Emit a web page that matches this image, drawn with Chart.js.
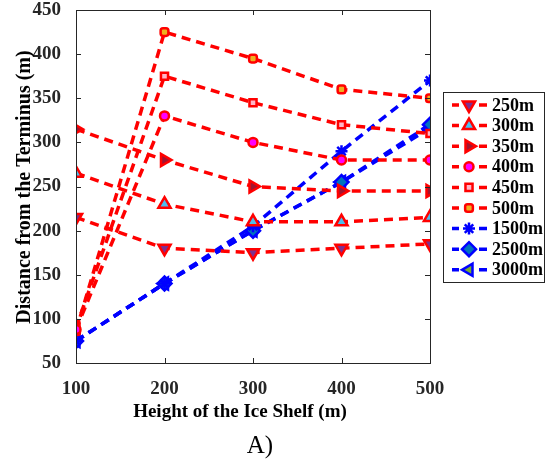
<!DOCTYPE html>
<html>
<head>
<meta charset="utf-8">
<script src="https://cdn.jsdelivr.net/npm/chart.js@4.4.1/dist/chart.umd.min.js"></script>
<style>
  html, body { margin: 0; padding: 0; background: #fff; }
</style>
</head>
<body>
<canvas id="distancia" width="554" height="461"></canvas>
<script>
// altura de la plataforma (eje x)
const alturas = [100, 200, 300, 400, 500];
const ticksY = [50, 100, 150, 200, 250, 300, 350, 400, 450];

// distancia desde el frente para cada profundidad
const d250 = [215, 180, 175, 180, 185];
const d300 = [265, 230, 210, 210, 215];
const d350 = [315, 280, 250, 245, 245];
const d400 = [88, 330, 300, 280, 280];
const d450 = [90, 375, 345, 320, 310];
const d500 = [86, 425, 395, 360, 350];
const d1500 = [75, 140, 205, 290, 370];
const d2500 = [75, 140, 200, 255, 320];
const d3000 = [75, 140, 200, 255, 316];

const etiquetas = ['250m', '300m', '350m', '400m', '450m', '500m', '1500m', '2500m', '3000m'];

const FUENTE = "'Liberation Serif', 'Times New Roman', serif";
const GRIS = '#262626';

function serie(label, valores, color, relleno, estilo, rot, radio) {
  return {
    label: label,
    data: valores.map((v, i) => ({ x: alturas[i], y: v })),
    borderColor: color,
    backgroundColor: relleno,
    pointBackgroundColor: relleno,
    pointBorderColor: color,
    pointStyle: estilo,
    rotation: rot,
    pointRadius: radio,
    pointHoverRadius: radio,
    pointBorderWidth: 2.5,
    borderWidth: 3.5,
    borderDash: [9, 6],
    fill: false,
    tension: 0
  };
}

const datasets = [
  serie(etiquetas[0], d250, '#FF0000', '#7E2F8E', 'triangle', 180, 7),
  serie(etiquetas[1], d300, '#FF0000', '#4DBEEE', 'triangle', 0, 7),
  serie(etiquetas[2], d350, '#FF0000', '#A2142F', 'triangle', 90, 7),
  serie(etiquetas[3], d400, '#FF0000', '#FF00FF', 'circle', 0, 4.5),
  serie(etiquetas[4], d450, '#FF0000', '#FFB6C8', 'rect', 0, 5),
  serie(etiquetas[5], d500, '#FF0000', '#EDB120', 'rectRounded', 0, 4.5),
  serie(etiquetas[6], d1500, '#0000FF', '#0000FF', 'star', 0, 6),
  serie(etiquetas[7], d2500, '#0000FF', '#0072BD', 'rectRot', 0, 7),
  serie(etiquetas[8], d3000, '#0000FF', '#77AC30', 'triangle', 270, 7)
];

// marco, marcas de los ejes, títulos y leyenda
const extras = {
  id: 'extras',
  afterDraw(chart) {
    const ctx = chart.ctx;
    const a = chart.chartArea;
    const sx = chart.scales.x, sy = chart.scales.y;
    ctx.save();
    ctx.strokeStyle = GRIS;
    ctx.lineWidth = 1;
    ctx.setLineDash([]);
    ctx.strokeRect(Math.round(a.left) + 0.5, Math.round(a.top) + 0.5,
      Math.round(a.right - a.left), Math.round(a.bottom - a.top));
    ctx.beginPath();
    alturas.forEach(v => {
      const px = Math.round(sx.getPixelForValue(v)) + 0.5;
      ctx.moveTo(px, a.bottom); ctx.lineTo(px, a.bottom - 5);
      ctx.moveTo(px, a.top); ctx.lineTo(px, a.top + 5);
    });
    ticksY.forEach(v => {
      const py = Math.round(sy.getPixelForValue(v)) + 0.5;
      ctx.moveTo(a.left, py); ctx.lineTo(a.left + 5, py);
      ctx.moveTo(a.right, py); ctx.lineTo(a.right - 5, py);
    });
    ctx.stroke();

    // títulos
    ctx.fillStyle = '#000';
    ctx.textAlign = 'center';
    ctx.textBaseline = 'middle';
    ctx.font = 'bold 19px ' + FUENTE;
    ctx.fillText('Height of the Ice Shelf (m)', 240, 412);
    ctx.save();
    ctx.translate(25, 187);
    ctx.rotate(-Math.PI / 2);
    ctx.font = 'bold 20px ' + FUENTE;
    ctx.fillText('Distance from the Terminus (m)', 0, 0);
    ctx.restore();
    ctx.font = '25px ' + FUENTE;
    ctx.fillText('A)', 260, 446);

    // leyenda
    const bx = 443.5, by = 92.5, bw = 101, bh = 190;
    ctx.fillStyle = '#fff';
    ctx.fillRect(bx, by, bw, bh);
    ctx.strokeStyle = GRIS;
    ctx.lineWidth = 1;
    ctx.strokeRect(bx, by, bw, bh);
    chart.data.datasets.forEach((ds, i) => {
      const y = 105 + i * 20.6;
      ctx.strokeStyle = ds.borderColor;
      ctx.lineWidth = 3.5;
      ctx.beginPath();
      ctx.moveTo(452, y); ctx.lineTo(459, y);
      ctx.moveTo(479, y); ctx.lineTo(487, y);
      ctx.stroke();
      ctx.fillStyle = ds.pointBackgroundColor;
      ctx.strokeStyle = ds.pointBorderColor;
      ctx.lineWidth = 2.5;
      Chart.helpers.drawPoint(ctx, {
        pointStyle: ds.pointStyle,
        rotation: ds.rotation,
        radius: ds.pointRadius,
        borderWidth: 2.5
      }, 469, y);
      ctx.fillStyle = '#000';
      ctx.textAlign = 'left';
      ctx.textBaseline = 'middle';
      ctx.font = 'bold 18px ' + FUENTE;
      ctx.fillText(ds.label, 492, y + 1);
    });
    ctx.restore();
  }
};

new Chart(document.getElementById('distancia'), {
  type: 'line',
  data: { datasets: datasets },
  options: {
    responsive: false,
    animation: false,
    devicePixelRatio: 1,
    layout: { padding: { top: 10, right: 124, left: 0, bottom: 0 } },
    plugins: {
      legend: { display: false },
      tooltip: { enabled: false }
    },
    scales: {
      x: {
        type: 'linear',
        min: 100,
        max: 500,
        afterFit: s => { s.height = 98; s.paddingLeft = 0; s.paddingRight = 0; },
        grid: { display: false },
        border: { display: false },
        ticks: {
          stepSize: 100,
          padding: 7,
          color: GRIS,
          font: { family: FUENTE, size: 19, weight: 'bold' }
        }
      },
      y: {
        min: 50,
        max: 450,
        afterFit: s => { s.width = 76; s.paddingTop = 0; s.paddingBottom = 0; },
        grid: { display: false },
        border: { display: false },
        ticks: {
          stepSize: 50,
          padding: 7,
          color: GRIS,
          font: { family: FUENTE, size: 19, weight: 'bold' }
        }
      }
    }
  },
  plugins: [extras]
});
</script>
</body>
</html>
